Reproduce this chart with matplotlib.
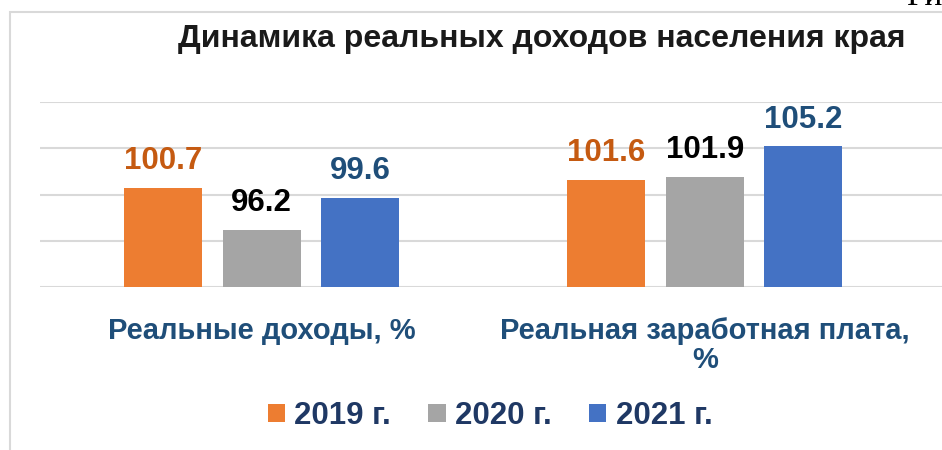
import numpy as np
import matplotlib
matplotlib.use("Agg")
import matplotlib.pyplot as plt
from matplotlib.patches import Rectangle, Patch

plt.rcParams['font.family'] = ['Liberation Sans', 'DejaVu Sans']

# данные
categories = ['Реальные доходы, %', 'Реальная заработная плата,\n%']
years = ['2019 г.', '2020 г.', '2021 г.']
v2019 = [100.7, 101.6]
v2020 = [96.2, 101.9]
v2021 = [99.6, 105.2]

bar_colors = ['#ED7D31', '#A5A5A5', '#4472C4']
label_colors = ['#C55A11', '#000000', '#1F4E79']

fig = plt.figure(figsize=(9.42, 4.5), dpi=100)
W, H = 942, 450

# рамка диаграммы
fig.patches.append(Rectangle((10 / W, -0.1), 1.2, 1 - 12 / H + 0.1, transform=fig.transFigure,
                             fill=False, edgecolor='#D9D9D9', linewidth=1.5))
# обрезанная подпись сверху справа
fig.text(906 / W, 1 - 5 / H, 'Рис', family='Liberation Serif', fontsize=24, va='baseline', ha='left')

ax = fig.add_axes([40 / W, 1 - 287 / H, (942 - 40) / W, (287 - 102) / H])
x = np.arange(len(categories))
w = 0.176
step = 0.222
for i, vals in enumerate([v2019, v2020, v2021]):
    bars = ax.bar(x + (i - 1) * step, [v - 90 for v in vals], bottom=90, width=w,
                  color=bar_colors[i], zorder=3)
    for b, v in zip(bars, vals):
        ax.annotate('%.1f' % v, (b.get_x() + b.get_width() / 2, v), xytext=(0, 13.5),
                    textcoords='offset points', ha='center', va='baseline',
                    fontsize=22.5, fontweight='bold', color=label_colors[i])

ax.set_ylim(90, 110)
ax.set_xlim(-0.5, 1.5 + (942 - 926.5) / 443)
ax.set_yticks([90, 95, 100, 105, 110])
ax.yaxis.grid(True, color='#D9D9D9', linewidth=1.5, zorder=0)
ax.tick_params(axis='y', left=False, labelleft=False)
ax.tick_params(axis='x', bottom=False, pad=18)
ax.set_xticks(x)
ax.set_xticklabels(categories, fontsize=21, fontweight='bold', color='#1F4E79', linespacing=1.05)
for s in ['top', 'right', 'left', 'bottom']:
    ax.spines[s].set_visible(False)

fig.text(542 / W, 1 - 39 / H, 'Динамика реальных доходов населения края', ha='center', va='center',
         fontsize=23, fontweight='bold', color='#1A1A1A')

handles = [Patch(facecolor=c) for c in bar_colors]
leg = fig.legend(handles, years, loc='center', bbox_to_anchor=(490 / W, 1 - 416 / H), ncol=3,
                 frameon=False, handlelength=0.55, handleheight=0.55, handletextpad=0.3,
                 columnspacing=1.2, prop={'size': 22.5, 'weight': 'bold'})
for t in leg.get_texts():
    t.set_color('#1F3864')

fig.savefig('out.png')
